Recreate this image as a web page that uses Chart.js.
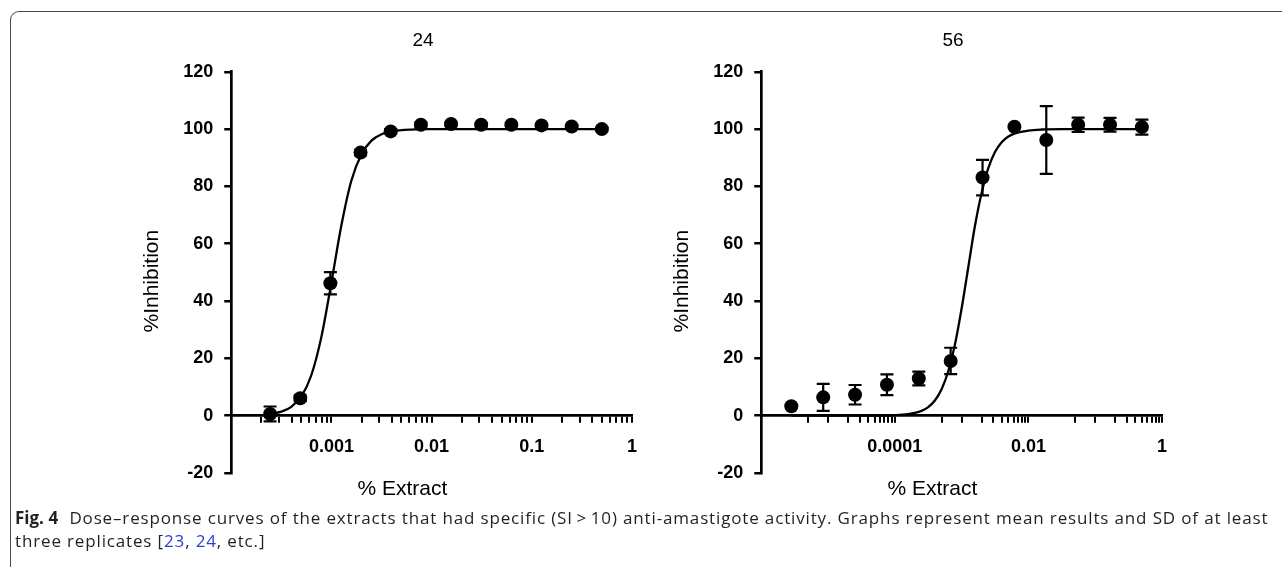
<!DOCTYPE html>
<html>
<head>
<meta charset="utf-8">
<script src="https://cdn.jsdelivr.net/npm/chart.js@4.4.1/dist/chart.umd.min.js"></script>
<style>
    html, body { margin: 0; padding: 0; background: #fff; }
    body { width: 1282px; height: 567px; position: relative; overflow: hidden; }
    #frame {
        position: absolute; left: 10px; top: 11px; width: 1300px; height: 600px;
        border-top: 1.5px solid #4a4a4a; border-left: 1.5px solid #4a4a4a;
        border-top-left-radius: 9px;
    }
    canvas { position: absolute; top: 20px; }
    #chart-24 { left: 138px; }
    #chart-56 { left: 668px; }
    #caption {
        position: absolute; left: 15px; top: 506px; z-index: 2;
        font-family: "Open Sans", "Noto Sans", sans-serif; font-size: 17px; line-height: 23px;
        letter-spacing: 0.85px; color: #231f20; white-space: nowrap;
    }
    #caption b { font-weight: 700; margin-right: 6px; letter-spacing: 0; }
    #caption span.ref { color: #2d3fd0; }
</style>
</head>
<body>
<div id="frame"></div>
<canvas id="chart-24" width="568" height="538"></canvas>
<canvas id="chart-56" width="568" height="538"></canvas>
<div id="caption"><b>Fig. 4</b> Dose–response curves of the extracts that had specific (SI&#8201;&gt;&#8201;10) anti-amastigote activity. Graphs represent mean results and SD of at least<br>three replicates [<span class="ref">23</span>, <span class="ref">24</span>, etc.]</div>

<script>
// ---- extract 24 (2-fold dilutions) ----
const leftX = [0.000244140625, 0.00048828125, 0.0009765625, 0.001953125, 0.00390625, 0.0078125,
               0.015625, 0.03125, 0.0625, 0.125, 0.25, 0.5];
const leftY = [0.6, 6.1, 46.2, 91.8, 99.2, 101.5, 101.8, 101.5, 101.5, 101.3, 100.9, 100.0];
const leftSD = [2.6, 1.0, 3.9, 1.0, 0.8, 0.8, 0.6, 0.6, 0.5, 0.5, 0.5, 0.5];

// fitted curve
const leftCurveX = [0.000244, 0.000316, 0.000398, 0.000501, 0.000631, 0.000794, 0.001, 0.00126,
                    0.00158, 0.002, 0.00251, 0.00316, 0.00398, 0.00631, 0.01, 0.0316, 0.1, 0.5];
const leftCurveY = [0.55, 1.4, 3.1, 6.7, 14.2, 27.5, 46.5, 66.6, 82.0, 91.3, 96.0, 98.2, 99.2,
                    99.85, 99.97, 100, 100, 100];

// ---- extract 56 (3-fold dilutions) ----
const rightX = [2.8225e-6, 8.4675e-6, 2.5403e-5, 7.6208e-5, 2.2862e-4, 6.8587e-4, 0.0020576,
                0.0061728, 0.018519, 0.055556, 0.16667, 0.5];
const rightY = [3.3, 6.4, 7.3, 10.8, 13.0, 19.1, 83.1, 100.8, 96.2, 101.5, 101.5, 100.7];
const rightSD = [0.5, 4.7, 3.4, 3.6, 2.4, 4.6, 6.2, 0.5, 11.8, 2.5, 2.4, 2.6];

const rightCurveX = [2.82e-6, 3.16e-5, 1e-4, 1.58e-4, 2.51e-4, 3.16e-4, 3.98e-4, 5.01e-4, 6.31e-4,
                     7.94e-4, 1e-3, 1.26e-3, 1.58e-3, 2e-3, 2.51e-3, 3.16e-3, 3.98e-3, 5.01e-3,
                     6.31e-3, 0.01, 0.0158, 0.0316, 0.5];
const rightCurveY = [0, 0.01, 0.16, 0.52, 1.7, 3.0, 5.3, 9.2, 15.5, 24.8, 37.4, 51.9, 66.1, 77.9,
                     86.4, 92.0, 95.4, 97.4, 98.5, 99.5, 99.86, 99.98, 100];

// ---- axis ticks ----
const leftXTicks = [1e-4, 2e-4, 3e-4, 4e-4, 5e-4, 6e-4, 7e-4, 8e-4, 9e-4,
                    1e-3, 2e-3, 3e-3, 4e-3, 5e-3, 6e-3, 7e-3, 8e-3, 9e-3,
                    1e-2, 2e-2, 3e-2, 4e-2, 5e-2, 6e-2, 7e-2, 8e-2, 9e-2,
                    0.1, 0.2, 0.3, 0.4, 0.5, 0.6, 0.7, 0.8, 0.9, 1];
const leftXLabelValues = [0.001, 0.01, 0.1, 1];
const leftXLabels = ['0.001', '0.01', '0.1', '1'];

const rightXTicks = [1e-6, 5e-6, 1e-5, 2e-5, 3e-5, 4e-5, 5e-5, 6e-5, 7e-5, 8e-5, 9e-5,
                     1e-4, 5e-4, 1e-3, 2e-3, 3e-3, 4e-3, 5e-3, 6e-3, 7e-3, 8e-3, 9e-3,
                     1e-2, 5e-2, 0.1, 0.2, 0.3, 0.4, 0.5, 0.6, 0.7, 0.8, 0.9, 1];
const rightXLabelValues = [0.0001, 0.01, 1];
const rightXLabels = ['0.0001', '0.01', '1'];

const yMin = -20, yMax = 120, yStep = 20;

const FONT = '"Liberation Sans", Arial, sans-serif';
const NBSP = '\u00A0';

// Draws SD bars under the points, using the chart's own scales
const errorBars = {
    id: 'errorBars',
    beforeDatasetsDraw(chart) {
        const ds = chart.data.datasets[0];
        const xs = chart.scales.x, ys = chart.scales.y;
        const ctx = chart.ctx;
        ctx.save();
        ctx.strokeStyle = '#000';
        ctx.lineWidth = 2.2;
        ds.data.forEach((p, i) => {
            const err = ds.sd[i];
            const px = xs.getPixelForValue(p.x);
            const top = ys.getPixelForValue(p.y + err);
            const bot = ys.getPixelForValue(p.y - err);
            ctx.beginPath();
            ctx.moveTo(px, top); ctx.lineTo(px, bot);
            ctx.moveTo(px - 6.5, top); ctx.lineTo(px + 6.5, top);
            ctx.moveTo(px - 6.5, bot); ctx.lineTo(px + 6.5, bot);
            ctx.stroke();
        });
        ctx.restore();
    }
};

function toPoints(xs, ys) {
    return xs.map((x, i) => ({ x: x, y: ys[i] }));
}

function makeChart(id, title, xs, ys, sd, cx, cy, xMin, xTicks, labelValues, labels) {
    return new Chart(document.getElementById(id), {
        type: 'scatter',
        data: {
            datasets: [{
                type: 'scatter',
                data: toPoints(xs, ys),
                sd: sd,
                pointRadius: 7,
                pointHoverRadius: 7,
                pointBackgroundColor: '#000',
                pointBorderWidth: 0,
                clip: false
            }, {
                type: 'line',
                data: toPoints(cx, cy),
                showLine: true,
                borderColor: '#000',
                borderWidth: 2.3,
                pointRadius: 0,
                fill: false,
                cubicInterpolationMode: 'monotone',
                clip: false
            }]
        },
        options: {
            responsive: false,
            animation: false,
            layout: { padding: { left: 2, right: 0, top: 0, bottom: 85 } },
            plugins: {
                legend: { display: false },
                tooltip: { enabled: false },
                title: {
                    display: true,
                    text: title,
                    color: '#000',
                    font: { family: FONT, size: 19, weight: 'normal' },
                    padding: { top: 9, bottom: 20 }
                }
            },
            scales: {
                x: {
                    type: 'logarithmic',
                    min: xMin,
                    max: 1,
                    position: { y: 0 },
                    afterBuildTicks: axis => {
                        axis.ticks = xTicks.map(v => ({ value: v }));
                    },
                    border: { display: true, color: '#000', width: 2.7 },
                    grid: { drawOnChartArea: false, drawTicks: true, tickLength: 6, color: '#000', lineWidth: 2 },
                    ticks: {
                        autoSkip: false,
                        maxRotation: 0,
                        padding: 15,
                        color: '#000',
                        font: { family: FONT, size: 18, weight: 'bold' },
                        callback: value => {
                            const k = labelValues.findIndex(v => Math.abs(v - value) / v < 1e-6);
                            return k >= 0 ? labels[k] : '';
                        }
                    },
                    title: {
                        display: true,
                        // trailing spaces pull the centred title left, as in the original
                        text: '% Extract' + NBSP.repeat(10),
                        color: '#000',
                        font: { family: FONT, size: 21, weight: 'normal' },
                        padding: { top: 3, bottom: 0 }
                    }
                },
                y: {
                    min: yMin,
                    max: yMax,
                    border: { display: true, color: '#000', width: 2.7 },
                    grid: { drawOnChartArea: false, drawTicks: true, tickLength: 7, color: '#000', lineWidth: 2.5 },
                    ticks: {
                        stepSize: yStep,
                        padding: 11,
                        color: '#000',
                        font: { family: FONT, size: 18, weight: 'bold' }
                    },
                    title: {
                        display: true,
                        text: '%Inhibition' + NBSP.repeat(3),
                        color: '#000',
                        font: { family: FONT, size: 21, weight: 'normal' },
                        padding: { top: 0, bottom: 7 }
                    }
                },
                // empty right-hand axis that only keeps space to the right of the plot
                pad: {
                    position: 'right',
                    display: true,
                    grid: { display: false },
                    border: { display: false },
                    ticks: { display: false },
                    afterFit: axis => { axis.width = 74; }
                }
            }
        },
        plugins: [errorBars]
    });
}

makeChart('chart-24', '24', leftX, leftY, leftSD, leftCurveX, leftCurveY, 1e-4,
          leftXTicks, leftXLabelValues, leftXLabels);
makeChart('chart-56', '56', rightX, rightY, rightSD, rightCurveX, rightCurveY, 1e-6,
          rightXTicks, rightXLabelValues, rightXLabels);
</script>
</body>
</html>
